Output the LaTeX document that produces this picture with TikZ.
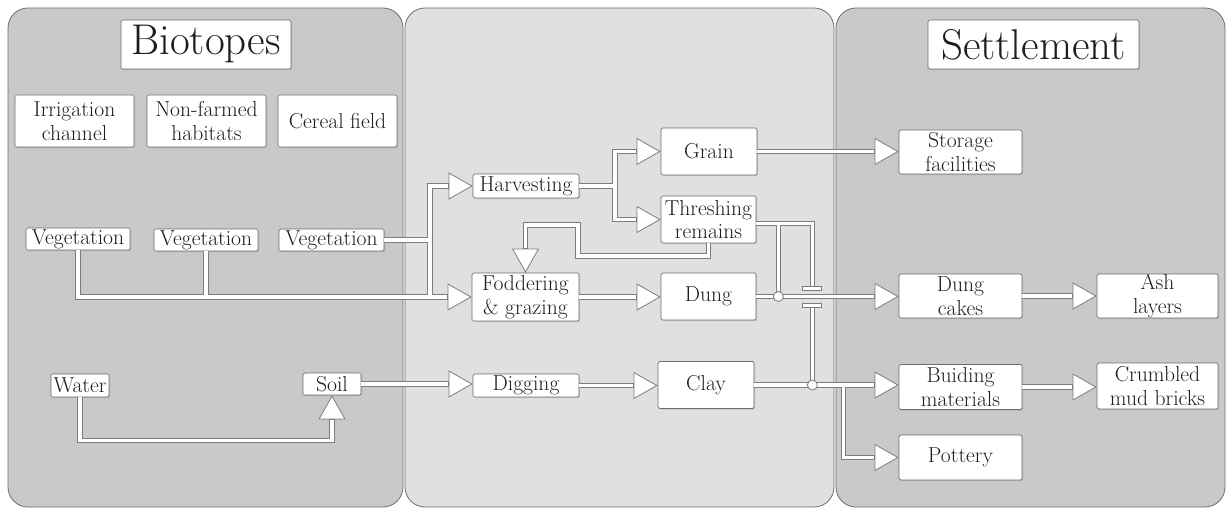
\documentclass[tikz,border=0pt]{standalone}
\usepackage{fontspec}
\usetikzlibrary{arrows.meta,shadows,calc}
\definecolor{pdark}{RGB}{200,201,203}
\definecolor{plight}{RGB}{223,224,226}
\definecolor{edgec}{RGB}{110,110,110}
\definecolor{pipec}{RGB}{125,125,125}
\definecolor{txt}{RGB}{30,30,30}
\newcommand\myconnectors{%
  \draw[pa] (veg1.south) |- (fodd.west);
  \draw[pn] (veg2.south) -- (veg2.south |- fodd.west);
  \draw[pn] (veg3.east) -- (jv);
  \draw[pa] (jv |- fodd.west) |- (harv.west);
  \draw[pn] (harv.east) -- (hx);
  \draw[pa] (hx) |- (grain.west);
  \draw[pa] (hx) |- (thr.west);
  \draw[pa] (thr.south) |- (c2) -- (c3) -| (fodd.north);
  \draw[pa] (fodd.east) -- (fodd.east -| dung.west);
  \draw[pa] (dung.east) -- (dung.east -| dcake.west);
  \draw[pn] (te) -| (b1);
  \draw[pn] (j1 |- te) -- (j1);
  \draw[pn] (b2) -- (j2);
  \draw[pa] (clay.east) -- (clay.east -| bmat.west);
  \draw[pa] (j3) |- (pot.west);
  \draw[pa] (soil.east) -- (soil.east -| dig.west);
  \draw[pa] (dig.east) -- (dig.east -| clay.west);
  \draw[pa] (water.south) -- ++(0,43) -| (soil.south);
  \draw[pa] (grain.east) -- (grain.east -| stor.west);
  \draw[pa] (dcake.east) -- (dcake.east -| ash.west);
  \draw[pa] (bmat.east) -- (bmat.east -| crumb.west);
}
\begin{document}
\begin{tikzpicture}[x=1pt,y=-1pt,
  panel/.style={draw=edgec, line width=0.8pt, rounded corners=20pt},
  box/.style={draw=edgec, line width=0.7pt, fill=white, rounded corners=1.5pt,
    inner sep=0pt, align=center, text=txt, font=\fontsize{21.6}{23.5}\selectfont,
    drop shadow={shadow xshift=1pt, shadow yshift=-1pt, opacity=0.3}},
  titlebox/.style={box, font=\fontsize{43}{50}\selectfont},
  dot/.style={circle, draw=pipec, fill=white, line width=0.8pt, inner sep=0pt, minimum size=10pt},
  barst/.style={draw=pipec, fill=white, line width=0.8pt},
]
\useasboundingbox (0,0) rectangle (1228,508);
\fill[white] (0,0) rectangle (1228,508);
% panels
\draw[panel, fill=pdark] (8,8) rectangle (403,507);
\draw[panel, fill=plight] (405,8) rectangle (834,507);
\draw[panel, fill=pdark] (836,8) rectangle (1225,507);
% titles
\node[titlebox, minimum width=170pt, minimum height=49pt] (biot) at (206,44.5) {Biotopes};
\node[titlebox, minimum width=211pt, minimum height=49pt] (settl) at (1033.5,44.5) {Settlement};
% biotopes
\node[box, minimum width=119pt, minimum height=52pt] (irr) at (74.5,121) {Irrigation\\channel};
\node[box, minimum width=119pt, minimum height=52pt] (nonf) at (206.5,121) {Non-farmed\\habitats};
\node[box, minimum width=119pt, minimum height=52pt] (cer) at (337.5,121) {Cereal field};
\node[box, minimum width=104pt, minimum height=22pt] (veg1) at (78,239) {Vegetation};
\node[box, minimum width=104pt, minimum height=22pt] (veg2) at (206,240) {Vegetation};
\node[box, minimum width=105pt, minimum height=22pt] (veg3) at (331.5,240) {Vegetation};
\node[box, minimum width=58pt, minimum height=23pt] (water) at (80,385.5) {Water};
\node[box, minimum width=58pt, minimum height=22pt] (soil) at (332,384) {Soil};
% middle
\node[box, minimum width=106pt, minimum height=24pt] (harv) at (526,186) {Harvesting};
\node[box, minimum width=96pt, minimum height=47pt] (grain) at (709,151.5) {Grain};
\node[box, minimum width=95pt, minimum height=47pt] (thr) at (708.5,219.5) {Threshing\\remains};
\node[box, minimum width=107pt, minimum height=48pt] (fodd) at (525.5,297) {Foddering\\\&\ grazing};
\node[box, minimum width=95pt, minimum height=47pt] (dung) at (708.5,296.5) {Dung};
\node[box, minimum width=106pt, minimum height=23pt] (dig) at (526,385.5) {Digging};
\node[box, minimum width=96pt, minimum height=47pt] (clay) at (706,385) {Clay};
% settlement
\node[box, minimum width=123pt, minimum height=44pt] (stor) at (960.5,152) {Storage\\facilities};
\node[box, minimum width=123pt, minimum height=44pt] (dcake) at (960.5,296) {Dung\\cakes};
\node[box, minimum width=121pt, minimum height=44pt] (ash) at (1157.5,296) {Ash\\layers};
\node[box, minimum width=123pt, minimum height=45pt] (bmat) at (960.5,387) {Buiding\\materials};
\node[box, minimum width=121pt, minimum height=46pt] (crumb) at (1157.5,386) {Crumbled\\mud bricks};
\node[box, minimum width=123pt, minimum height=45pt] (pot) at (960.5,457.5) {Pottery};
% helper coordinates
\coordinate (jv) at (430,240);
\coordinate (hx) at (615,186);
\coordinate (c2) at (578,256);
\coordinate (c3) at (578,225);
\coordinate (te) at ($(thr.east)+(0,4)$);
\coordinate (j1) at ($(dung.east)+(22,0)$);
\coordinate (j2) at ($(clay.east)+(58,0)$);
\coordinate (j3) at ($(clay.east)+(89,0)$);
\coordinate (b1) at ($(j2 |- dung.east)+(0,-9.5)$);
\coordinate (b2) at ($(j2 |- dung.east)+(0,9.5)$);
% connectors: outer pass then inner pass
\tikzset{pn/.style={draw=pipec, line width=5.4pt},
  pa/.style={pn, -{Triangle[length=24pt, width=27pt, fill=white, line width=0.8pt]}}}
\myconnectors
\tikzset{pn/.style={draw=white, line width=3.6pt},
  pa/.style={pn, shorten >=24.6pt}}
\myconnectors
% junctions and bridge caps
\node[dot] (d1) at (j1) {};
\node[dot] (d2) at (j2) {};
\draw[barst] ($(b1)+(-9.5,-1)$) rectangle ($(b1)+(9.5,3)$);
\draw[barst] ($(b2)+(-9.5,-3)$) rectangle ($(b2)+(9.5,1)$);
\end{tikzpicture}
\end{document}
